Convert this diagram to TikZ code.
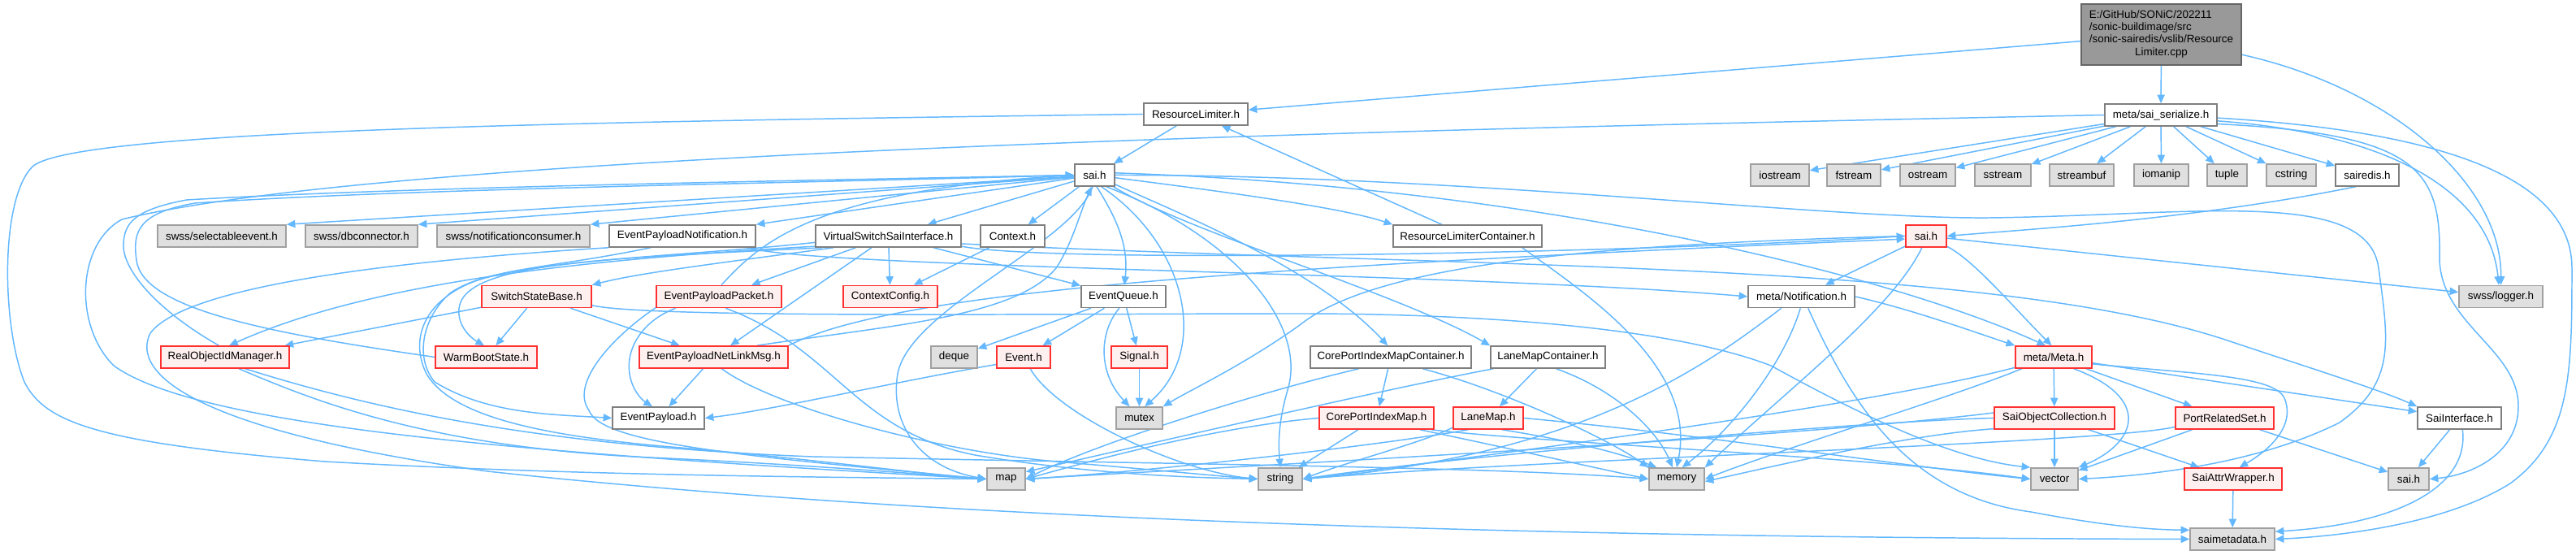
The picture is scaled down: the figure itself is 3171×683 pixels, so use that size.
\documentclass[tikz,border=0pt]{standalone}
\usepackage{fontspec}
\setmainfont{Liberation Sans}
\usetikzlibrary{arrows.meta}
\pgfdeclarelayer{back}
\pgfdeclarelayer{edges}
\pgfsetlayers{back,edges,main}
\definecolor{edgec}{HTML}{63B8FF}
\definecolor{wbord}{HTML}{7F7F7F}
\definecolor{gbord}{HTML}{A0A0A0}
\definecolor{gfill}{HTML}{E0E0E0}
\definecolor{rbord}{HTML}{FF3030}
\definecolor{rfill}{HTML}{FFF0F0}
\definecolor{rootfill}{HTML}{999999}
\definecolor{rootbord}{HTML}{666666}
\begin{document}
\begin{tikzpicture}[x=0.01cm,y=-0.01cm,
  nbase/.style={rectangle, inner sep=0pt, minimum height=0.27cm, font=\fontsize{3.81}{4.27}\selectfont, line width=0.45pt, text=black},
  wn/.style={nbase, draw=wbord, fill=white},
  gn/.style={nbase, draw=gbord, fill=gfill},
  rn/.style={nbase, draw=rbord, fill=rfill},
  lnk/.style={draw=edgec, line width=0.42pt, -{Triangle[length=3pt,width=2.6pt]}}]

\begin{pgfonlayer}{back}
\path[fill=white] (0,0) rectangle (3171,683);
\end{pgfonlayer}
\useasboundingbox (0,0) rectangle (3171,683);

% ---------- nodes ----------
\node[nbase, draw=rootbord, fill=rootfill, minimum width=1.97cm, minimum height=0.75cm] (root) at (2660.5,42.5)
  {\begin{tabular}{@{}l@{}}E:/GitHub/SONiC/202211\\/sonic-buildimage/src\\/sonic-sairedis/vslib/Resource\\\multicolumn{1}{@{}c@{}}{Limiter.cpp}\end{tabular}};

\node[wn, minimum width=1.28cm] (rl) at (1472,140.5) {ResourceLimiter.h};
\node[wn, minimum width=1.38cm] (ser) at (2660,141.5) {meta/sai\_serialize.h};

\node[wn, minimum width=0.49cm] (saiw) at (1347.5,215.5) {sai.h};
\node[gn, minimum width=0.72cm] (ios) at (2191,215.5) {iostream};
\node[gn, minimum width=0.66cm] (fst) at (2282,215.5) {fstream};
\node[gn, minimum width=0.68cm] (ost) at (2373,215.5) {ostream};
\node[gn, minimum width=0.69cm] (sst) at (2465.5,215.5) {sstream};
\node[gn, minimum width=0.79cm] (sbuf) at (2562.5,215.5) {streambuf};
\node[gn, minimum width=0.67cm] (iom) at (2660.5,215.5) {iomanip};
\node[gn, minimum width=0.49cm] (tup) at (2741.5,215.5) {tuple};
\node[gn, minimum width=0.61cm] (cstr) at (2820.5,215.5) {cstring};
\node[wn, minimum width=0.78cm] (sred) at (2914,215.5) {sairedis.h};

\node[gn, minimum width=1.58cm] (sel) at (273,290.5) {swss/selectableevent.h};
\node[gn, minimum width=1.38cm] (dbc) at (445,290.5) {swss/dbconnector.h};
\node[gn, minimum width=1.88cm] (ncons) at (632,290.5) {swss/notificationconsumer.h};
\node[wn, minimum width=1.80cm] (epn) at (840,290.5) {EventPayloadNotification.h};
\node[wn, minimum width=1.79cm] (vssi) at (1093.5,290.5) {VirtualSwitchSaiInterface.h};
\node[wn, minimum width=0.79cm] (ctx) at (1246.5,290.5) {Context.h};
\node[wn, minimum width=1.83cm] (rlc) at (1806.5,290.5) {ResourceLimiterContainer.h};
\node[rn, minimum width=0.50cm] (sair) at (2371,290.5) {sai.h};

\node[rn, minimum width=1.35cm] (ssb) at (660.5,365) {SwitchStateBase.h};
\node[rn, minimum width=1.54cm] (epp) at (885,365) {EventPayloadPacket.h};
\node[rn, minimum width=1.16cm] (cc) at (1096,365) {ContextConfig.h};
\node[wn, minimum width=1.04cm] (eq) at (1383,365) {EventQueue.h};
\node[wn, minimum width=1.31cm] (mnot) at (2217.5,365) {meta/Notification.h};
\node[gn, minimum width=1.03cm] (logger) at (3078.5,365) {swss/logger.h};

\node[rn, minimum width=1.58cm] (roim) at (277,439.5) {RealObjectIdManager.h};
\node[rn, minimum width=1.25cm] (wbs) at (598.5,439.5) {WarmBootState.h};
\node[rn, minimum width=1.83cm] (epnl) at (878.5,439.5) {EventPayloadNetLinkMsg.h};
\node[gn, minimum width=0.57cm] (deque) at (1174.5,439.5) {deque};
\node[rn, minimum width=0.66cm] (event) at (1260,439.5) {Event.h};
\node[rn, minimum width=0.69cm] (signal) at (1402.5,439.5) {Signal.h};
\node[wn, minimum width=1.98cm] (cpimc) at (1712,439.5) {CorePortIndexMapContainer.h};
\node[wn, minimum width=1.41cm] (lmc) at (1905.5,439.5) {LaneMapContainer.h};
\node[rn, minimum width=0.94cm] (meta) at (2528,439.5) {meta/Meta.h};

\node[wn, minimum width=1.13cm] (ep) at (810.5,514.5) {EventPayload.h};
\node[gn, minimum width=0.57cm] (mutex) at (1402.5,514.5) {mutex};
\node[rn, minimum width=1.41cm] (cpim) at (1694.5,514.5) {CorePortIndexMap.h};
\node[rn, minimum width=0.86cm] (lm) at (1832,514.5) {LaneMap.h};
\node[rn, minimum width=1.48cm] (soc) at (2529,514.5) {SaiObjectCollection.h};
\node[rn, minimum width=1.21cm] (prs) at (2738.5,514.5) {PortRelatedSet.h};
\node[wn, minimum width=1.03cm] (sint) at (3027.5,514.5) {SaiInterface.h};

\node[gn, minimum width=0.47cm] (map) at (1238.5,589.5) {map};
\node[gn, minimum width=0.54cm] (str) at (1576,589.5) {string};
\node[gn, minimum width=0.68cm] (mem) at (2064,589.5) {memory};
\node[gn, minimum width=0.58cm] (vec) at (2529,589.5) {vector};
\node[rn, minimum width=1.20cm] (saw) at (2749,589.5) {SaiAttrWrapper.h};
\node[gn, minimum width=0.50cm] (saig) at (2965,589.5) {sai.h};

\node[gn, minimum width=1.04cm] (smd) at (2748,663.5) {saimetadata.h};

% ---------- edges ----------
\begin{pgfonlayer}{edges}
% root
\draw[lnk] (root) -- (rl);
\draw[lnk] (root) -- (ser);
\draw[lnk] (root.-14) .. controls (2950,110) and (3080,230) .. (logger.north);
% ResourceLimiter.h
\draw[lnk] (rl) -- (saiw);
\draw[lnk] (rl.west) .. controls (700,150) and (90,160) .. (40,205) .. controls (0,245) and (2,400) .. (30,470) .. controls (55,520) and (120,545) .. (400,568) .. controls (700,585) and (1000,587) .. (map.west);
% meta/sai_serialize.h
\foreach \t in {ios,fst,ost,sst,sbuf,iom,tup,cstr,sred} \draw[lnk] (ser) -- (\t);
\draw[lnk] (ser.-6) .. controls (2950,165) and (3065,240) .. (logger.100);
\draw[lnk] (ser.-9) .. controls (2980,165) and (3005,210) .. (3003,320) .. controls (3006,400) and (3100,430) .. (3100,500) .. controls (3100,560) and (3040,585) .. (saig.east);
\draw[lnk] (ser.-3) .. controls (2980,160) and (3166,210) .. (3166,330) .. controls (3166,460) and (3165,540) .. (3090,595) .. controls (3010,645) and (2880,660) .. (smd.east);
\draw[lnk] (ser.west) .. controls (1800,158) and (500,185) .. (150,270) .. controls (95,300) and (90,400) .. (140,450) .. controls (250,530) and (700,560) .. (map.west);
% sai.h (white)
\draw[lnk] (saiw) -- (sel.north east);
\draw[lnk] (saiw) -- (dbc.north east);
\draw[lnk] (saiw) -- (ncons.north east);
\draw[lnk] (saiw) -- (epn.north east);
\draw[lnk] (saiw) -- (vssi);
\draw[lnk] (saiw) -- (ctx);
\draw[lnk] (saiw.-80) .. controls (1372,265) and (1390,300) .. (eq.86);
\draw[lnk] (saiw) .. controls (1500,235) and (1650,255) .. (rlc.north west);
\draw[lnk] (saiw) .. controls (1450,262) and (1620,330) .. (cpimc.105);
\draw[lnk] (saiw) .. controls (1460,285) and (1720,360) .. (lmc.north west);
\draw[lnk] (saiw.6) .. controls (1900,230) and (2330,340) .. (meta.125);
\draw[lnk] (saiw.-100) .. controls (1320,300) and (1120,380) .. (1105,460) .. controls (1095,520) and (1130,575) .. (map.west);
\draw[lnk] (saiw.-60) .. controls (1460,300) and (1490,430) .. (mutex.65);
\draw[lnk] (saiw.-45) .. controls (1520,290) and (1610,400) .. (1585,480) .. controls (1575,515) and (1573,540) .. (str.north);
\draw[lnk] (saiw.east) .. controls (1800,215) and (2250,270) .. (2450,268) .. controls (2700,265) and (2915,230) .. (2928,330) .. controls (2940,420) and (2950,470) .. (2880,520) .. controls (2780,570) and (2650,585) .. (vec.east);
% red sai.h
\draw[lnk] (sred.-135) .. controls (2700,270) and (2500,282) .. (sair.east);
\draw[lnk] (sair) -- (logger);
\draw[lnk] (sair) -- (mnot);
\draw[lnk] (sair) .. controls (2430,320) and (2480,380) .. (meta.100);
\draw[lnk] (sair.-110) .. controls (2330,380) and (2200,480) .. (mem.north east);
\draw[lnk] (sair.west) .. controls (2000,300) and (1700,320) .. (1600,400) .. controls (1530,450) and (1465,480) .. (mutex.north east);
% VirtualSwitchSaiInterface.h
\draw[lnk] (vssi.-8) .. controls (1300,325) and (2000,312) .. (sair.west);
\draw[lnk] (vssi.-6) .. controls (1800,330) and (2450,320) .. (2745,420) .. controls (2850,455) and (2930,480) .. (sint.north west);
\draw[lnk] (vssi.-172) .. controls (700,320) and (450,350) .. (roim.70);
\draw[lnk] (vssi.-170) .. controls (750,318) and (570,322) .. (565,380) .. controls (563,400) and (578,415) .. (wbs.100);
\draw[lnk] (vssi.-168) .. controls (900,322) and (790,335) .. (ssb.north east);
\draw[lnk] (vssi.-175) .. controls (850,315) and (640,320) .. (575,350) .. controls (520,375) and (505,420) .. (525,460) .. controls (560,520) and (700,540) .. (850,552) .. controls (1000,565) and (1150,585) .. (map.west);
\draw[lnk] (vssi) -- (epp);
\draw[lnk] (vssi) -- (cc);
\draw[lnk] (vssi) -- (epnl);
\draw[lnk] (vssi) -- (eq);
\draw[lnk] (ctx) -- (cc);
% EventPayloadNotification.h
\draw[lnk] (epn.-10) .. controls (1000,330) and (1800,335) .. (mnot.west);
\draw[lnk] (epn.-160) .. controls (680,330) and (600,330) .. (555,360) .. controls (520,390) and (510,440) .. (535,470) .. controls (600,510) and (680,510) .. (ep.west);
\draw[lnk] (epn.south west) .. controls (500,320) and (230,350) .. (185,410) .. controls (160,460) and (240,530) .. (600,580) .. controls (1200,645) and (2000,662) .. (smd.west);
% back edges to sai.h
\draw[lnk] (roim.118) .. controls (190,380) and (150,330) .. (152,300) .. controls (153,275) and (165,258) .. (230,246) .. controls (500,230) and (1000,222) .. (saiw.west);
\draw[lnk] (wbs.west) .. controls (330,410) and (175,380) .. (168,320) .. controls (163,285) and (170,262) .. (240,250) .. controls (500,232) and (1000,225) .. (saiw.west);
\draw[lnk] (epp.78) .. controls (935,300) and (1000,235) .. (saiw.west);
\draw[lnk] (epnl.15) .. controls (1100,400) and (1250,390) .. (1300,330) .. controls (1320,300) and (1330,260) .. (saiw.-105);
\draw[lnk] (epnl.north east) .. controls (1100,360) and (1500,330) .. (sair.-172);
% EventQueue.h
\draw[lnk] (eq) -- (deque);
\draw[lnk] (eq) -- (event);
\draw[lnk] (eq) -- (signal);
\draw[lnk] (eq.-110) .. controls (1352,410) and (1352,460) .. (mutex.130);
\draw[lnk] (signal) -- (mutex);
% Event.h
\draw[lnk] (event.-165) .. controls (1100,470) and (950,505) .. (ep.east);
\draw[lnk] (event.-60) .. controls (1300,510) and (1450,580) .. (str.west);
% EventPayloadPacket.h
\draw[lnk] (epp.-165) .. controls (790,395) and (770,430) .. (775,460) .. controls (778,480) and (790,492) .. (ep.118);
\draw[lnk] (epp.-60) .. controls (1030,430) and (1050,530) .. (1200,560) .. controls (1350,585) and (1480,588) .. (str.west);
\draw[lnk] (epp.-170) .. controls (760,410) and (700,470) .. (725,505) .. controls (740,545) and (900,560) .. (map.west);
% EventPayloadNetLinkMsg.h
\draw[lnk] (epnl) -- (ep);
\draw[lnk] (epnl.-55) .. controls (950,500) and (1150,555) .. (1300,568) .. controls (1420,578) and (1500,586) .. (str.west);
% SwitchStateBase.h
\draw[lnk] (ssb) -- (roim);
\draw[lnk] (ssb) -- (wbs);
\draw[lnk] (ssb) -- (epnl);
\draw[lnk] (ssb.-9) .. controls (800,392) and (1300,386) .. (1600,386) .. controls (1800,386) and (2050,400) .. (2180,450) .. controls (2280,505) and (2400,565) .. (vec.north west);
% RealObjectIdManager.h
\draw[lnk] (roim.-40) .. controls (380,490) and (520,550) .. (800,563) .. controls (1000,572) and (1150,585) .. (map.west);
\draw[lnk] (roim.-30) .. controls (450,500) and (650,548) .. (1000,562) .. controls (1500,572) and (1850,575) .. (mem.west);
% containers
\draw[lnk] (rlc) -- (rl);
\draw[lnk] (rlc.-12) .. controls (1950,360) and (2090,450) .. (mem.north);
\draw[lnk] (cpimc) -- (cpim);
\draw[lnk] (cpimc.-20) .. controls (1850,480) and (1980,540) .. (mem.north west);
\draw[lnk] (cpimc.-160) .. controls (1560,480) and (1350,545) .. (map.east);
\draw[lnk] (lmc) -- (lm);
\draw[lnk] (lmc.-55) .. controls (1990,480) and (2040,530) .. (mem.110);
\draw[lnk] (lmc.-168) .. controls (1700,480) and (1420,545) .. (map.20);
% CorePortIndexMap.h / LaneMap.h
\draw[lnk] (cpim) -- (str);
\draw[lnk] (cpim.-15) .. controls (1850,550) and (1960,575) .. (mem.west);
\draw[lnk] (cpim.west) .. controls (1500,525) and (1350,565) .. (map.east);
\draw[lnk] (cpim.-12) .. controls (1900,545) and (2300,562) .. (vec.west);
\draw[lnk] (lm.-165) .. controls (1750,545) and (1660,568) .. (str.east);
\draw[lnk] (lm.-40) .. controls (1950,545) and (2000,560) .. (mem.150);
\draw[lnk] (lm.-150) .. controls (1700,548) and (1420,580) .. (map.east);
\draw[lnk] (lm.east) .. controls (2100,535) and (2350,575) .. (vec.west);
% meta/Notification.h
\draw[lnk] (mnot.east) .. controls (2350,380) and (2420,405) .. (meta.north west);
\draw[lnk] (mnot.-95) .. controls (2195,450) and (2130,530) .. (mem.65);
\draw[lnk] (mnot.-150) .. controls (2100,450) and (1950,560) .. (str.east);
\draw[lnk] (mnot.-60) .. controls (2280,500) and (2350,610) .. (2500,630) .. controls (2580,645) and (2640,652) .. (smd.168);
% meta/Meta.h
\draw[lnk] (meta) -- (soc);
\draw[lnk] (meta) -- (prs);
\draw[lnk] (meta) -- (sint);
\draw[lnk] (meta.-30) .. controls (2650,490) and (2630,545) .. (vec.north east);
\draw[lnk] (meta.-10) .. controls (2700,460) and (2800,462) .. (2812,490) .. controls (2825,520) and (2800,550) .. (saw.62);
\draw[lnk] (meta.-160) .. controls (2400,490) and (2200,550) .. (mem.east);
\draw[lnk] (meta.-165) .. controls (2300,500) and (1800,565) .. (str.east);
% SaiObjectCollection.h
\draw[lnk] (soc) -- (vec);
\draw[lnk] (soc) -- (saw);
\draw[lnk] (soc.west) .. controls (2300,518) and (1800,560) .. (str.east);
\draw[lnk] (soc.-170) .. controls (2350,535) and (2200,570) .. (mem.-5);
\draw[lnk] (soc.175) .. controls (2200,540) and (1500,575) .. (map.east);
% PortRelatedSet.h
\draw[lnk] (prs) -- (vec);
\draw[lnk] (prs) -- (saig);
\draw[lnk] (prs.-170) .. controls (2600,545) and (1900,565) .. (str.east);
% SaiInterface.h / SaiAttrWrapper.h
\draw[lnk] (sint) -- (saig);
\draw[lnk] (sint.-75) .. controls (3040,600) and (2950,645) .. (smd.10);
\draw[lnk] (saw) -- (smd);
\end{pgfonlayer}
\end{tikzpicture}
\end{document}
